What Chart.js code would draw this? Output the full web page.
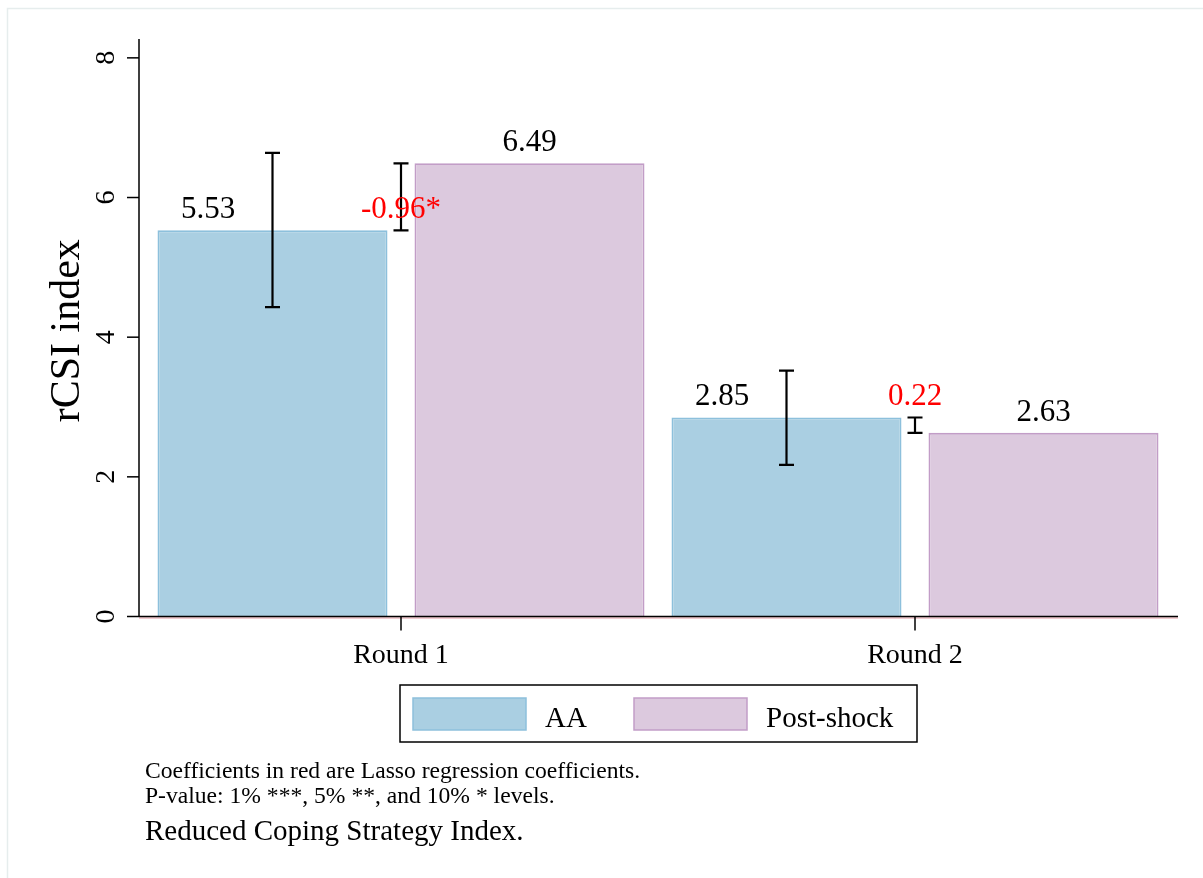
<!DOCTYPE html>
<html>
<head>
<meta charset="utf-8">
<script src="https://cdn.jsdelivr.net/npm/chart.js@4/dist/chart.umd.min.js"></script>
<style>
  html, body { margin: 0; padding: 0; background: #fff; }
  canvas { display: block; }
</style>
</head>
<body>
<canvas id="c" width="1203" height="878"></canvas>
<script>
// Mean rCSI by survey round, with 95% CI for the AA group and Lasso coefficient (AA - Post-shock)
const categories = ['Round 1', 'Round 2'];
const seriesNames = ['AA', 'Post-shock'];
const aaMeans = [5.53, 2.85];
const postMeans = [6.49, 2.63];
const aaCiLow = [4.43, 2.17];
const aaCiHigh = [6.64, 3.52];
const lassoCoef = [-0.96, 0.22];
const lassoStars = ['*', ''];
const yTicks = [0, 2, 4, 6, 8];
const yTitle = 'rCSI index';
const footnotes = [
  'Coefficients in red are Lasso regression coefficients.',
  'P-value: 1% ***, 5% **, and 10% * levels.'
];
const caption = 'Reduced Coping Strategy Index.';

const SERIF = '"Liberation Serif", "Times New Roman", Times, serif';
const fillAA = '#aacfe2', edgeAA = '#8dc0dc';
const fillPS = '#dcc9de', edgePS = '#c29dc7';

function font(px) { return px + 'px ' + SERIF; }

const decorations = {
  id: 'decorations',
  beforeDraw(chart) {
    const { ctx, width, height } = chart;
    ctx.save();
    ctx.fillStyle = '#fff';
    ctx.fillRect(0, 0, width, height);
    // light outer frame
    ctx.strokeStyle = '#e6eded';
    ctx.lineWidth = 1.5;
    ctx.beginPath();
    ctx.moveTo(7.5, height);
    ctx.lineTo(7.5, 8.5);
    ctx.lineTo(width, 8.5);
    ctx.stroke();
    ctx.restore();
  },
  afterDatasetsDraw(chart) {
    const { ctx, chartArea: a, scales: { x, y } } = chart;
    const axL = a.left - 5, axR = a.right + 6;
    const axB = y.getPixelForValue(0), axT = a.top;
    ctx.save();

    // baseline tint under the x axis
    ctx.strokeStyle = 'rgba(205,70,90,0.55)';
    ctx.lineWidth = 1;
    ctx.beginPath();
    ctx.moveTo(axL, axB + 1.5);
    ctx.lineTo(axR, axB + 1.5);
    ctx.stroke();

    // axes
    ctx.strokeStyle = '#000';
    ctx.lineWidth = 1.5;
    ctx.beginPath();
    ctx.moveTo(axL, axT);
    ctx.lineTo(axL, axB);
    ctx.moveTo(axL, axB);
    ctx.lineTo(axR, axB);
    ctx.stroke();

    // y ticks and rotated labels
    ctx.fillStyle = '#000';
    ctx.font = font(28);
    ctx.textAlign = 'center';
    ctx.textBaseline = 'alphabetic';
    yTicks.forEach(t => {
      const py = y.getPixelForValue(t);
      ctx.beginPath();
      ctx.moveTo(axL - 12, py);
      ctx.lineTo(axL, py);
      ctx.stroke();
      ctx.save();
      ctx.translate(axL - 25, py);
      ctx.rotate(-Math.PI / 2);
      ctx.fillText(String(t), 0, 0);
      ctx.restore();
    });

    // y title
    ctx.save();
    ctx.font = font(42);
    ctx.translate(79, (axT + axB) / 2 + 3);
    ctx.rotate(-Math.PI / 2);
    ctx.fillText(yTitle, 0, 0);
    ctx.restore();

    // x ticks and category labels
    ctx.font = font(28);
    categories.forEach((c, i) => {
      const px = x.getPixelForValue(i);
      ctx.beginPath();
      ctx.moveTo(px, axB);
      ctx.lineTo(px, axB + 14);
      ctx.stroke();
      ctx.fillText(c, px, axB + 46);
    });

    // error bars
    const metaAA = chart.getDatasetMeta(0);
    const metaPS = chart.getDatasetMeta(1);
    ctx.lineWidth = 2.2;
    const cap = 7.5;
    function vbar(px, v0, v1) {
      const p0 = y.getPixelForValue(v0), p1 = y.getPixelForValue(v1);
      ctx.beginPath();
      ctx.moveTo(px, p0); ctx.lineTo(px, p1);
      ctx.moveTo(px - cap, p0); ctx.lineTo(px + cap, p0);
      ctx.moveTo(px - cap, p1); ctx.lineTo(px + cap, p1);
      ctx.stroke();
    }
    categories.forEach((c, i) => {
      vbar(metaAA.data[i].x, aaCiLow[i], aaCiHigh[i]);
      vbar(x.getPixelForValue(i), aaMeans[i], aaMeans[i] - lassoCoef[i]);
    });

    // value labels
    ctx.font = font(31);
    ctx.textBaseline = 'alphabetic';
    categories.forEach((c, i) => {
      const bA = metaAA.data[i], bP = metaPS.data[i];
      ctx.fillStyle = '#000';
      ctx.fillText(aaMeans[i].toFixed(2), bA.x - 0.28 * bA.width, bA.y - 12);
      ctx.fillText(postMeans[i].toFixed(2), bP.x, bP.y - 12);
      ctx.fillStyle = '#ff0000';
      ctx.fillText(lassoCoef[i].toFixed(2) + lassoStars[i], x.getPixelForValue(i), bA.y - 12);
    });

    // legend
    const mid = (axL + axR) / 2;
    const boxW = 517, boxH = 57, boxT = 685;
    const boxL = mid - boxW / 2;
    ctx.strokeStyle = '#000';
    ctx.lineWidth = 1.5;
    ctx.strokeRect(boxL, boxT, boxW, boxH);
    const sw = [
      { x: boxL + 13, fill: fillAA, edge: edgeAA, label: seriesNames[0] },
      { x: boxL + 234, fill: fillPS, edge: edgePS, label: seriesNames[1] }
    ];
    ctx.font = font(29);
    ctx.textAlign = 'left';
    sw.forEach(s => {
      ctx.fillStyle = s.fill;
      ctx.fillRect(s.x, boxT + 13, 113, 32);
      ctx.strokeStyle = s.edge;
      ctx.lineWidth = 1.5;
      ctx.strokeRect(s.x, boxT + 13, 113, 32);
      ctx.fillStyle = '#000';
      ctx.fillText(s.label, s.x + 132, boxT + 42);
    });

    // notes
    ctx.font = font(23.6);
    ctx.fillText(footnotes[0], 145, 778);
    ctx.fillText(footnotes[1], 145, 803);
    ctx.font = font(29);
    ctx.fillText(caption, 145, 840);

    ctx.restore();
  }
};

new Chart(document.getElementById('c'), {
  type: 'bar',
  data: {
    labels: categories,
    datasets: [
      { label: seriesNames[0], data: aaMeans, backgroundColor: fillAA, borderColor: edgeAA, borderWidth: 1.8 },
      { label: seriesNames[1], data: postMeans, backgroundColor: fillPS, borderColor: edgePS, borderWidth: 1.8 }
    ]
  },
  options: {
    responsive: false,
    animation: false,
    devicePixelRatio: 1,
    datasets: { bar: { categoryPercentage: 1.0, barPercentage: 0.895 } },
    layout: { padding: { left: 144, right: 31, top: 39, bottom: 261.5 } },
    plugins: { legend: { display: false }, title: { display: false }, tooltip: { enabled: false } },
    scales: {
      x: { type: 'category', display: false, offset: true },
      y: { display: false, min: 0, max: 8.27 }
    }
  },
  plugins: [decorations]
});
</script>
</body>
</html>
